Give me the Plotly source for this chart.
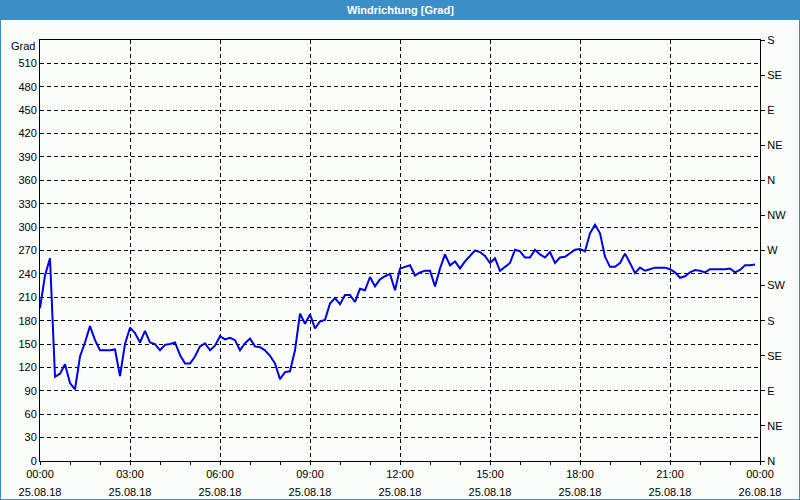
import pandas as pd
import plotly.graph_objects as go

# 10-minute wind direction readings (degrees), 25.08.18 00:00 .. 23:50
values = [196, 238, 260, 108, 112, 124, 100, 92, 134, 152, 173, 155,
          142, 142, 142, 143, 109, 150, 171, 164, 152, 167, 152, 150,
          142, 149, 150, 152, 136, 125, 125, 134, 147, 151, 142, 148,
          160, 156, 158, 155, 142, 151, 157, 147, 146, 142, 135, 125,
          105, 114, 115, 142, 189, 176, 188, 170, 179, 181, 202, 209,
          201, 213, 213, 204, 221, 219, 236, 224, 233, 237, 240, 219,
          247, 249, 251, 238, 242, 244, 244, 224, 247, 265, 251, 256,
          247, 256, 263, 270, 268, 263, 254, 260, 244, 249, 254, 271,
          269, 261, 261, 271, 265, 261, 268, 254, 261, 262, 266, 271,
          272, 269, 292, 303, 292, 262, 249, 249, 254, 266, 254, 241,
          248, 244, 246, 248, 248, 248, 246, 242, 235, 237, 242, 245,
          244, 242, 246, 246, 246, 246, 247, 242, 245, 251, 251, 252]
times = pd.date_range("2018-08-25 00:00", periods=len(values), freq="10min")

x_tick_times = pd.date_range("2018-08-25 00:00", "2018-08-26 00:00", freq="3h")
x_time_text = [t.strftime("%H:%M") for t in x_tick_times]
x_date_text = [t.strftime("%d.%m.%y") for t in x_tick_times]
y_ticks = list(range(0, 511, 30))
dir_ticks = list(range(0, 541, 45))
dir_labels = ["N", "NE", "E", "SE", "S", "SW", "W", "NW", "N", "NE", "E", "SE", "S"]

FONT = "Liberation Sans"
BLUE = "#3c8fc6"

fig = go.Figure()
fig.add_trace(go.Scatter(x=times, y=values, mode="lines",
                         line=dict(color="#0000e6", width=2), showlegend=False,
                         hoverinfo="skip"))
fig.add_trace(go.Scatter(x=[times[0]], y=[0], xaxis="x2", yaxis="y2", mode="markers",
                         marker=dict(opacity=0), showlegend=False, hoverinfo="skip"))

L, R, T, B = 40, 40, 40, 39
W, H = 800, 500
pw, ph = W - L - R, H - T - B
def px(x): return (x - L) / pw
def py(y): return (H - B - y) / ph

xrange_ = [x_tick_times[0], x_tick_times[-1]]

fig.update_layout(
    width=W, height=H,
    margin=dict(l=L, r=R, t=T, b=B, autoexpand=False),
    paper_bgcolor="#fbfdfb", plot_bgcolor="#fbfdfb",
    font=dict(family=FONT, size=11, color="black"),
    xaxis=dict(range=xrange_,
               tickvals=list(x_tick_times), ticktext=x_time_text,
               showgrid=True, gridcolor="black", griddash="4px,3px", gridwidth=1,
               showline=True, linecolor="black", linewidth=1, mirror=True,
               ticks="outside", ticklen=3, tickcolor="black",
               minor=dict(dtick=3600000, ticks="outside", ticklen=3, tickcolor="black", showgrid=False),
               zeroline=False, tickangle=0, automargin=False, ticklabelstandoff=0),
    xaxis2=dict(range=xrange_, overlaying="x", side="bottom", anchor="y",
                tickvals=list(x_tick_times), ticktext=x_date_text,
                showgrid=False, showline=False, ticks="", zeroline=False,
                tickangle=0, automargin=False, ticklabelstandoff=23),
    yaxis=dict(range=[0, 540], tickvals=y_ticks,
               showgrid=True, gridcolor="black", griddash="4px,3px", gridwidth=1,
               showline=True, linecolor="black", linewidth=1, mirror=True,
               ticks="", zeroline=False, automargin=False),
    yaxis2=dict(range=[0, 540], overlaying="y", side="right",
                tickvals=dir_ticks, ticktext=dir_labels,
                showgrid=False, zeroline=False, showline=False,
                ticks="outside", ticklen=4, tickcolor="black", automargin=False),
    shapes=[
        dict(type="rect", xref="paper", yref="paper", x0=px(0), x1=px(800), y0=py(20), y1=py(0),
             fillcolor=BLUE, line=dict(width=0), layer="above"),
        dict(type="line", xref="paper", yref="paper", x0=px(0.5), x1=px(0.5), y0=py(500), y1=py(20),
             line=dict(color=BLUE, width=1)),
        dict(type="line", xref="paper", yref="paper", x0=px(799.5), x1=px(799.5), y0=py(500), y1=py(20),
             line=dict(color=BLUE, width=1)),
        dict(type="line", xref="paper", yref="paper", x0=px(0), x1=px(800), y0=py(499.5), y1=py(499.5),
             line=dict(color=BLUE, width=1)),
    ],
    annotations=[
        dict(text="<b>Windrichtung [Grad]</b>", xref="paper", yref="paper",
             x=px(400), y=py(10), showarrow=False, xanchor="center", yanchor="middle",
             font=dict(color="white", size=11, family=FONT)),
        dict(text="Grad", xref="paper", yref="paper", x=px(37), y=py(46),
             showarrow=False, xanchor="right", yanchor="middle",
             font=dict(color="black", size=11, family=FONT)),
    ],
)

fig.write_html("out.html")
